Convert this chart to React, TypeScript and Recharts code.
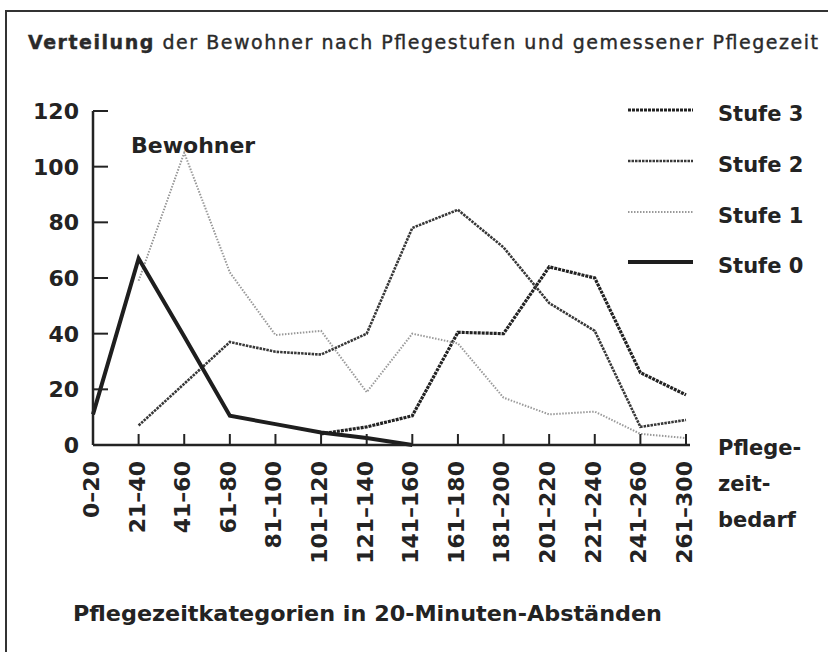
import React from 'react';
import { LineChart, Line, XAxis, YAxis } from 'recharts';

const categories = ['0–20', '21–40', '41–60', '61–80', '81–100', '101–120', '121–140', '141–160', '161–180', '181–200', '201–220', '221–240', '241–260', '261–300'];
const stufe0 = [11, 67, 39, 10.5, 7.5, 4.5, 2.5, 0, null, null, null, null, null, null];
const stufe1 = [null, 59, 105, 62, 39.5, 41, 19, 40, 36.5, 17, 11, 12, 4, 2.5];
const stufe2 = [null, 7, 22, 37, 33.5, 32.5, 40, 78, 84.5, 71, 51, 41, 6.5, 9];
const stufe3 = [null, null, null, null, null, 4, 6.5, 10.5, 40.5, 40, 64, 60, 26, 18];
const yTicks = [0, 20, 40, 60, 80, 100, 120];

const data = categories.map((c, i) => ({ cat: c, s0: stufe0[i], s1: stufe1[i], s2: stufe2[i], s3: stufe3[i] }));

const series = [
  { key: 's3', name: 'Stufe 3', color: '#222', width: 3.2, dash: '3 1' },
  { key: 's2', name: 'Stufe 2', color: '#383838', width: 2.6, dash: '2.5 1' },
  { key: 's1', name: 'Stufe 1', color: '#999', width: 2, dash: '1.5 1.5' },
  { key: 's0', name: 'Stufe 0', color: '#1e1e1e', width: 4, dash: undefined as string | undefined },
];

const W = 828;
const H = 652;
const AXIS_X = 93;
const AXIS_Y = 445;
const FONT = '"DejaVu Sans", sans-serif';
const TXT = '#232323';

const YTick = (props: any) => {
  const { y, payload } = props;
  return (
    <g>
      {payload.value !== 0 && (
        <line x1={AXIS_X} x2={AXIS_X + 15} y1={y} y2={y} stroke={TXT} strokeWidth={2} />
      )}
      <text x={AXIS_X - 14} y={y + 8} textAnchor="end" fontFamily={FONT} fontWeight="bold" fontSize={22} fill={TXT}>
        {payload.value}
      </text>
    </g>
  );
};

const XTick = (props: any) => {
  const { x, payload } = props;
  const ty = AXIS_Y + 16;
  return (
    <g>
      <line x1={x} x2={x} y1={AXIS_Y} y2={AXIS_Y - 11} stroke={TXT} strokeWidth={2} />
      <text
        x={x - 2}
        y={ty}
        dy="0.36em"
        textAnchor="end"
        transform={`rotate(-90, ${x - 2}, ${ty})`}
        fontFamily={FONT}
        fontWeight="bold"
        fontSize={22}
        fill={TXT}
      >
        {payload.value}
      </text>
    </g>
  );
};

export default function App() {
  return (
    <div style={{ position: 'absolute', left: 0, top: 0, width: W, height: H, background: '#fff' }}>
      <LineChart
        width={W}
        height={H}
        data={data}
        margin={{ top: 111, right: 138, bottom: 167, left: 53 }}
      >
        <XAxis
          dataKey="cat"
          type="category"
          interval={0}
          height={40}
          padding={{ left: 0, right: 4 }}
          axisLine={{ stroke: TXT, strokeWidth: 2.5 }}
          tickLine={false}
          tick={<XTick />}
        />
        <YAxis
          type="number"
          domain={[0, 120]}
          ticks={yTicks}
          width={40}
          axisLine={{ stroke: TXT, strokeWidth: 2.5 }}
          tickLine={false}
          tick={<YTick />}
        />
        {series.map((s) => (
          <Line
            key={s.key}
            dataKey={s.key}
            name={s.name}
            type="linear"
            stroke={s.color}
            strokeWidth={s.width}
            strokeDasharray={s.dash}
            dot={false}
            activeDot={false}
            connectNulls={false}
            isAnimationActive={false}
          />
        ))}
      </LineChart>
      <svg width={W} height={H} style={{ position: 'absolute', left: 0, top: 0, pointerEvents: 'none' }}>
        <line x1={6} x2={6} y1={10} y2={H} stroke="#333" strokeWidth={2} />
        <line x1={6} x2={W} y1={11} y2={11} stroke="#333" strokeWidth={2} />
        <text x={28} y={49} fontFamily={FONT} fontSize={19} fill="#2a2a2a" stroke="#2a2a2a" strokeWidth={0.4} textLength={790} lengthAdjust="spacing">
          <tspan fontWeight="bold">Verteilung</tspan> der Bewohner nach Pflegestufen und gemessener Pflegezeit
        </text>
        <text x={131} y={153} fontFamily={FONT} fontWeight="bold" fontSize={22} fill={TXT}>Bewohner</text>
        {series.map((s, i) => {
          const ly = [110, 161, 212, 262][i];
          return (
            <g key={s.key}>
              <line x1={628} x2={693} y1={ly} y2={ly} stroke={s.color} strokeWidth={s.width} strokeDasharray={s.dash} />
              <text x={718} y={ly + 5} dominantBaseline="middle" fontFamily={FONT} fontWeight="bold" fontSize={21} fill={TXT}>{s.name}</text>
            </g>
          );
        })}
        <text x={718} y={455} fontFamily={FONT} fontWeight="bold" fontSize={21} fill={TXT}>Pflege-</text>
        <text x={718} y={491} fontFamily={FONT} fontWeight="bold" fontSize={21} fill={TXT}>zeit-</text>
        <text x={718} y={527} fontFamily={FONT} fontWeight="bold" fontSize={21} fill={TXT}>bedarf</text>
        <text x={73} y={621} fontFamily={FONT} fontWeight="bold" fontSize={22} fill={TXT} textLength={589} lengthAdjust="spacingAndGlyphs">
          Pflegezeitkategorien in 20-Minuten-Abständen
        </text>
      </svg>
    </div>
  );
}
